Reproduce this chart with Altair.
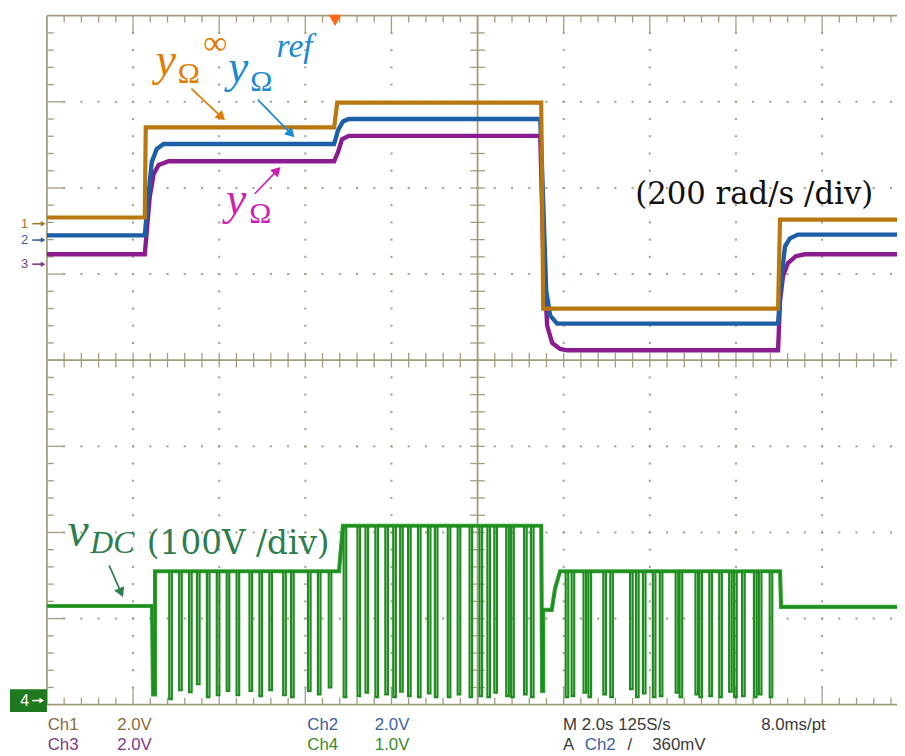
import altair as alt
import pandas as pd
import numpy as np

# ---------------- screen: oscilloscope graticule in divisions (10 x 8, centre = (5, 0)) -------------
X_DOMAIN = [-0.4522, 9.870]
Y_DOMAIN = [-4.557, 4.0506]
W, H = 897, 748

# ---------------- Ch1 : y_Omega^inf (orange) ----------------
ch1_x = [0.0, 1.136, 1.147, 3.335, 3.370, 5.739, 5.762, 8.489, 8.512, 9.870]
ch1_y = [1.657, 1.657, 2.704, 2.704, 2.990, 2.990, 0.598, 0.598, 1.632, 1.632]

# ---------------- Ch2 : y_Omega^ref (blue) ----------------
ch2_x = [0.0, 1.136, 1.171, 1.217, 1.274, 1.354, 3.334, 3.380, 3.437, 3.505,
         5.728, 5.762, 5.797, 5.843, 5.924, 8.489, 8.524, 8.570, 8.627, 8.719, 9.870]
ch2_y = [1.450, 1.450, 1.841, 2.301, 2.451, 2.510, 2.510, 2.670, 2.773, 2.800,
         2.800, 1.841, 0.806, 0.518, 0.424, 0.424, 0.921, 1.323, 1.415, 1.458, 1.458]

# ---------------- Ch3 : y_Omega (purple) ----------------
ch3_x = [0.0, 1.136, 1.159, 1.194, 1.239, 1.297, 1.412, 3.334, 3.380, 3.426, 3.505,
         5.728, 5.762, 5.808, 5.866, 5.958, 6.038, 8.489, 8.512, 8.547, 8.604, 8.696, 8.800, 9.870]
ch3_y = [1.230, 1.230, 1.496, 1.899, 2.163, 2.267, 2.310, 2.310, 2.417, 2.566, 2.605,
         2.605, 1.266, 0.400, 0.200, 0.130, 0.115, 0.115, 0.690, 0.978, 1.128, 1.208, 1.230, 1.230]

# ---------------- Ch4 : v_DC (green) skeleton + switching dips ----------------
vdc_path_x = [0.0, 1.220, 1.232, 1.255, 1.255, 3.391, 3.437, 5.739, 5.750, 5.762, 5.762,
              5.861, 5.900, 5.958, 8.512, 8.524, 9.870]
vdc_path_y = [-2.854, -2.854, -3.880, -3.880, -2.451, -2.451, -1.922, -1.922, -3.840, -3.840, -2.900,
              -2.900, -2.650, -2.451, -2.451, -2.865, -2.865]
vdc_spike_x = [1.435, 1.550, 1.665, 1.757, 1.872, 1.987, 2.102, 2.217, 2.367, 2.482, 2.597,
               2.758, 2.850, 3.046, 3.161, 3.287,
               3.460, 3.621, 3.714, 3.829, 3.944, 4.036, 4.116, 4.208, 4.323, 4.438, 4.519,
               4.669, 4.784, 4.922, 5.037, 5.129, 5.210, 5.348, 5.405, 5.555, 5.635,
               6.038, 6.107, 6.245, 6.303, 6.475, 6.556, 6.786, 6.855, 6.935, 7.050, 7.131,
               7.315, 7.361, 7.545, 7.591, 7.706, 7.821, 7.936, 7.994, 8.086, 8.224, 8.281, 8.407]
vdc_spike_low = [-3.936, -3.832, -3.855, -3.763, -3.913, -3.890, -3.840, -3.890, -3.840, -3.900, -3.830,
                 -3.890, -3.913, -3.840, -3.880, -3.800,
                 -3.913, -3.900, -3.860, -3.913, -3.880, -3.913, -3.850, -3.900, -3.913, -3.870, -3.913,
                 -3.913, -3.880, -3.913, -3.900, -3.913, -3.860, -3.900, -3.913, -3.880, -3.913,
                 -3.913, -3.900, -3.860, -3.913, -3.880, -3.913, -3.820, -3.913, -3.870, -3.913, -3.900,
                 -3.860, -3.913, -3.880, -3.913, -3.900, -3.913, -3.850, -3.913, -3.900, -3.913, -3.880, -3.913]

# ---------------- annotations ----------------
label_arrows_from_x = [1.677, 2.448, 2.413, 0.722]
label_arrows_from_y = [3.153, 3.026, 1.933, -2.382]
label_arrows_to_x = [2.068, 2.874, 2.712, 0.883]
label_arrows_to_y = [2.785, 2.589, 2.244, -2.750]

channel_marks = ["1", "2", "3"]
channel_mark_y = [1.585, 1.395, 1.115]

bottom_row1 = ["Ch1", "2.0V", "Ch2", "2.0V", "M 2.0s 125S/s", "8.0ms/pt"]
bottom_row2 = ["Ch3", "2.0V", "Ch4", "1.0V", "A", "Ch2", "/", "360mV"]

# ---------------- colours ----------------
C_GRID = "#a39d7e"
C_DOT = "#a39e8a"
C1, C2, C3, C4 = "#b8770f", "#1d5fa6", "#8b1c8f", "#1e8c1e"
L1, L2, L3, L4 = "#e07b00", "#1b8ad0", "#cc1fb5", "#2e7d4e"
M1, M2, M3 = "#a0742a", "#2f5f9a", "#7a3a8a"


def X(f="x"):
    return alt.X(f"{f}:Q", scale=alt.Scale(domain=X_DOMAIN, nice=False, zero=False), axis=None)


def Y(f="y"):
    return alt.Y(f"{f}:Q", scale=alt.Scale(domain=Y_DOMAIN, nice=False, zero=False), axis=None)


layers = []

# ---------------- graticule ----------------
major_x = [1, 2, 3, 4, 6, 7, 8, 9]
major_y = [-3, -2, -1, 1, 2, 3]
SUB = 5
dots = []
for gx in major_x:
    for k in range(1, 8 * SUB):
        dots.append((gx, -4 + k / SUB))
for gy in major_y:
    for k in range(1, 10 * SUB):
        dots.append((k / SUB, gy))
dots_df = pd.DataFrame(dots, columns=["x", "y"])
layers.append(alt.Chart(dots_df).mark_square(size=4.5, color=C_DOT, opacity=0.95).encode(x=X(), y=Y()))

ticks = []
for k in range(1, 10 * SUB):
    xv = k / SUB
    major = (k % SUB == 0)
    ln = 0.2 if major else 0.08
    ticks.append((xv, 4.0, xv, 4.0 - ln))
    ticks.append((xv, -4.0, xv, -4.0 + ln))
    ticks.append((xv, -0.085, xv, 0.085))
for k in range(1, 8 * SUB):
    yv = -4 + k / SUB
    major = (k % SUB == 0)
    ln = 0.2 if major else 0.08
    ticks.append((0.0, yv, ln, yv))
    ticks.append((5 - 0.085, yv, 5 + 0.085, yv))
ticks_df = pd.DataFrame(ticks, columns=["x", "y", "x2", "y2"])
layers.append(alt.Chart(ticks_df).mark_rule(color=C_GRID, strokeWidth=1.3).encode(
    x=X(), y=Y(), x2=alt.X2("x2:Q"), y2=alt.Y2("y2:Q")))

border_df = pd.DataFrame({
    "x": [0.0, 0.0, 0.0, 5.0, 0.0],
    "y": [4.0, -4.0, -4.0, -4.0, 0.0],
    "x2": [9.870, 9.870, 0.0, 5.0, 9.870],
    "y2": [4.0, -4.0, 4.0, 4.0, 0.0],
})
layers.append(alt.Chart(border_df).mark_rule(color=C_GRID, strokeWidth=1.8).encode(
    x=X(), y=Y(), x2=alt.X2("x2:Q"), y2=alt.Y2("y2:Q")))

# ---------------- v_DC trace ----------------
W_PULSE = 0.015
out = []
spikes = list(zip(vdc_spike_x, vdc_spike_low))
si = 0
for px_, py_ in zip(vdc_path_x, vdc_path_y):
    while si < len(spikes) and spikes[si][0] < px_:
        sx, low = spikes[si]
        lev = out[-1][1]
        out += [(sx - W_PULSE, lev), (sx - W_PULSE, low), (sx + W_PULSE, low), (sx + W_PULSE, lev)]
        si += 1
    out.append((px_, py_))
vdc_df = pd.DataFrame(out, columns=["x", "y"])
vdc_df["i"] = range(len(vdc_df))
skel_df = pd.DataFrame({"x": vdc_path_x, "y": vdc_path_y, "i": range(len(vdc_path_x))})
layers.append(alt.Chart(skel_df).mark_line(color="#37a537", strokeWidth=4.2).encode(
    x=X(), y=Y(), order=alt.Order("i:Q")))
layers.append(alt.Chart(vdc_df).mark_line(color=C4, strokeWidth=2.2).encode(
    x=X(), y=Y(), order=alt.Order("i:Q")))


def trace(xs, ys, color, width):
    df = pd.DataFrame({"x": xs, "y": ys, "i": range(len(xs))})
    return alt.Chart(df).mark_line(color=color, strokeWidth=width).encode(
        x=X(), y=Y(), order=alt.Order("i:Q"))


layers.append(trace(ch3_x, ch3_y, C3, 4.4))
layers.append(trace(ch2_x, ch2_y, C2, 4.4))
layers.append(trace(ch1_x, ch1_y, C1, 4.2))

# ---------------- trigger marker ----------------
layers.append(alt.Chart(pd.DataFrame({"x": [3.345], "y": [3.945]})).mark_point(
    shape="triangle-down", filled=True, size=170, color="#ff6a1a", opacity=1, strokeWidth=0
).encode(x=X(), y=Y()))

# ---------------- channel markers (digit + arrow) ----------------
mk_df = pd.DataFrame({"t": channel_marks, "x": [-0.30] * 3, "y": channel_mark_y, "c": [M1, M2, M3]})
layers.append(alt.Chart(mk_df).mark_text(align="left", baseline="middle", fontSize=13,
                                         font="Liberation Sans").encode(
    x=X(), y=Y(), text="t:N", color=alt.Color("c:N", scale=None)))
mk_arr = pd.DataFrame({"x": [-0.17] * 3, "x2": [-0.05] * 3, "y": channel_mark_y,
                       "hx": [-0.045] * 3, "c": [M1, M2, M3]})
layers.append(alt.Chart(mk_arr).mark_rule(strokeWidth=1.6).encode(
    x=X(), x2=alt.X2("x2:Q"), y=Y(), color=alt.Color("c:N", scale=None)))
layers.append(alt.Chart(mk_arr).mark_point(shape="triangle-right", filled=True, size=30, opacity=1,
                                           strokeWidth=0).encode(
    x=X("hx"), y=Y(), color=alt.Color("c:N", scale=None)))

box_df = pd.DataFrame({"x": [-0.429], "x2": [0.0], "y": [-3.820], "y2": [-4.085]})
layers.append(alt.Chart(box_df).mark_rect(color="#1f7a1f").encode(
    x=X(), x2=alt.X2("x2:Q"), y=Y(), y2=alt.Y2("y2:Q")))
layers.append(alt.Chart(pd.DataFrame({"t": ["4"], "x": [-0.31], "y": [-3.952]})).mark_text(
    align="left", baseline="middle", fontSize=16, color="white",
    font="Liberation Sans").encode(x=X(), y=Y(), text="t:N"))
box_arr = pd.DataFrame({"x": [-0.17], "x2": [-0.07], "y": [-3.952], "hx": [-0.06]})
layers.append(alt.Chart(box_arr).mark_rule(strokeWidth=1.6, color="white").encode(
    x=X(), x2=alt.X2("x2:Q"), y=Y()))
layers.append(alt.Chart(box_arr).mark_point(shape="triangle-right", filled=True, size=30, opacity=1,
                                            strokeWidth=0, color="white").encode(x=X("hx"), y=Y()))

# ---------------- label arrows ----------------
arr = pd.DataFrame({"x": label_arrows_from_x, "y": label_arrows_from_y,
                    "tx": label_arrows_to_x, "ty": label_arrows_to_y,
                    "c": [L1, L2, L3, L4]})
dx = arr.tx - arr.x
dy = arr.ty - arr.y
ln = np.hypot(dx, dy)
arr["ang"] = np.degrees(np.arctan2(dx, dy)) % 360
arr["hx"] = arr.tx - 0.055 * dx / ln
arr["hy"] = arr.ty - 0.055 * dy / ln
layers.append(alt.Chart(arr).mark_rule(strokeWidth=1.7).encode(
    x=X(), y=Y(), x2=alt.X2("hx:Q"), y2=alt.Y2("hy:Q"), color=alt.Color("c:N", scale=None)))
layers.append(alt.Chart(arr).mark_point(shape="triangle-up", filled=True, size=120, opacity=1,
                                        strokeWidth=0).encode(
    x=X("hx"), y=Y("hy"), angle=alt.Angle("ang:Q", scale=None), color=alt.Color("c:N", scale=None)))


def annot(text, x, y, size, color, font, style="normal"):
    df = pd.DataFrame({"t": [text], "x": [x], "y": [y]})
    return alt.Chart(df).mark_text(align="left", baseline="alphabetic", fontSize=size, color=color,
                                   font=font, fontStyle=style).encode(x=X(), y=Y(), text="t:N")


SERIF = "Liberation Serif"
layers += [
    annot("y", 1.262, 3.314, 46, L1, SERIF, "italic"),
    annot("\u03a9", 1.520, 3.222, 30, L1, SERIF),
    annot("\u221e", 1.815, 3.560, 34, L1, SERIF),
    annot("y", 2.102, 3.234, 46, L2, SERIF, "italic"),
    annot("\u03a9", 2.360, 3.130, 30, L2, SERIF),
    annot("ref", 2.666, 3.521, 34, L2, SERIF, "italic"),
    annot("y", 2.079, 1.692, 46, L3, SERIF, "italic"),
    annot("\u03a9", 2.350, 1.588, 30, L3, SERIF),
    annot("v", 0.238, -2.152, 48, L4, SERIF, "italic"),
    annot("DC", 0.503, -2.244, 32, L4, SERIF, "italic"),
    annot("(100V /div)", 1.160, -2.255, 33, L4, "DejaVu Serif"),
    annot("(200 rad/s /div)", 6.830, 1.818, 31, "#111111", "DejaVu Serif"),
]

# ---------------- bottom read-out ----------------
BR = "#8a6a40"; PU = "#7a3a8a"; BL = "#3a62a0"; GR = "#3a8a2a"; DK = "#3a3a3a"
row1_x = [0.008, 0.815, 3.023, 3.806, 5.992, 8.293]
row1_c = [BR, BR, BL, BL, DK, DK]
row2_x = [0.008, 0.815, 3.023, 3.806, 5.992, 6.245, 6.740, 7.028]
row2_c = [PU, PU, GR, GR, DK, BL, DK, DK]
bt = pd.DataFrame({
    "t": bottom_row1 + bottom_row2,
    "x": row1_x + row2_x,
    "y": [-4.292] * len(bottom_row1) + [-4.522] * len(bottom_row2),
    "c": row1_c + row2_c,
})
layers.append(alt.Chart(bt).mark_text(align="left", baseline="alphabetic", fontSize=17,
                                      font="Liberation Sans Narrow, Liberation Sans").encode(
    x=X(), y=Y(), text="t:N", color=alt.Color("c:N", scale=None)))

chart = alt.layer(*layers).properties(
    width=W, height=H, padding=0, autosize=alt.AutoSizeParams(type="none"),
    background="white"
).configure_view(stroke=None)

chart.save("out.html", embed_options={"renderer": "svg", "actions": False})
